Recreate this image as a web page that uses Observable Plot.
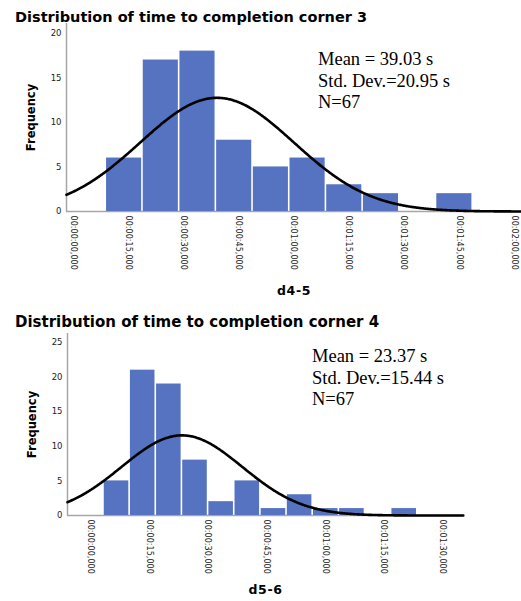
<!DOCTYPE html>
<html>
<head>
<meta charset="utf-8">
<script src="https://cdn.jsdelivr.net/npm/d3@7"></script>
<script src="https://cdn.jsdelivr.net/npm/@observablehq/plot@0.6"></script>
<style>
  body { margin: 0; background: #fff; }
  #wrap { position: relative; width: 521px; height: 601px; overflow: hidden; background: #fff; }
  .title { position: absolute; left: 15px; font-family: "DejaVu Sans", sans-serif; font-weight: bold; white-space: nowrap; color: #000; line-height: 1.164; }
  .stats { position: absolute; font-family: "Liberation Serif", serif; font-size: 18.5px; line-height: 21.5px; white-space: nowrap; color: #000; }
  svg.chart { position: absolute; left: 0; }
  svg.chart g[aria-label="y-axis label"] text { font-weight: bold; font-size: 11.5px; fill: #000; }
  svg.chart g[aria-label="x-axis label"] text { font-weight: bold; font-size: 12.5px; fill: #000; letter-spacing: 0.6px; }
  svg.chart g[aria-label="x-axis tick label"] text { font-size: 8.1px; fill: #222; }
  svg.chart g[aria-label="y-axis tick label"] text { font-size: 8.5px; fill: #222; }
</style>
</head>
<body>
<div id="wrap"></div>
<script>
// ---------- data ----------
const titleTop = "Distribution of time to completion corner 3";
const titleBottom = "Distribution of time to completion corner 4";

const labelTop = "d4-5";
const labelBottom = "d5-6";

// chart 1 (corner 3)
const countsTop = [6, 17, 18, 8, 5, 6, 3, 2, 0, 2];
const binStartTop = 8.7;   // seconds
const binWidthTop = 10;    // seconds
const meanTop = 39.03, sdTop = 20.95, nTop = 67;
const xTicksTop = [0, 15, 30, 45, 60, 75, 90, 105, 120];
const yTicksTop = [0, 5, 10, 15, 20];

// chart 2 (corner 4)
const countsBottom = [5, 21, 19, 8, 2, 5, 1, 3, 1, 1, 0, 1];
const binStartBottom = 3.3;
const binWidthBottom = 6.69;
const meanBottom = 23.37, sdBottom = 15.44, nBottom = 67;
const xTicksBottom = [0, 15, 30, 45, 60, 75, 90];
const yTicksBottom = [0, 5, 10, 15, 20, 25];

// ---------- helpers ----------
const pad2 = v => String(v).padStart(2, "0");
function fmtTime(s) {
  const h = Math.floor(s / 3600), m = Math.floor(s / 60) % 60, sec = Math.floor(s % 60);
  return `${pad2(h)}:${pad2(m)}:${pad2(sec)},000`;
}
function bins(counts, start, width) {
  return counts.map((c, i) => ({x1: start + i * width, x2: start + (i + 1) * width, count: c}));
}
function normalCurve(mean, sd, n, width, domain) {
  const pts = [];
  const k = n * width / (sd * Math.sqrt(2 * Math.PI));
  for (let x = domain[0]; x <= domain[1] + 1e-9; x += 0.25) {
    const z = (x - mean) / sd;
    pts.push({x, y: k * Math.exp(-0.5 * z * z)});
  }
  return pts;
}

const BAR = "#5573c0";
const AXIS = "#a6a6a6";

function chart({counts, start, width, mean, sd, n, xTicks, yTicks, xDomain, yDomain, label, top, height, margins, xLabelOffset}) {
  const svg = Plot.plot({
    width: 521,
    height,
    marginLeft: margins[0], marginRight: margins[1], marginTop: margins[2], marginBottom: margins[3],
    style: {fontFamily: "DejaVu Sans, sans-serif", fontSize: "8px", background: "transparent", color: "#000"},
    x: {domain: xDomain},
    y: {domain: yDomain},
    marks: [
      Plot.ruleY([0], {stroke: AXIS, strokeWidth: 1.5}),
      Plot.rectY(bins(counts, start, width).filter(d => d.count > 0), {
        x1: "x1", x2: "x2", y: "count", fill: BAR, insetLeft: 0.8, insetRight: 0.8
      }),
      Plot.ruleX([xDomain[0]], {stroke: AXIS, strokeWidth: 1.5}),
      Plot.line(normalCurve(mean, sd, n, width, xDomain), {x: "x", y: "y", stroke: "#000", strokeWidth: 2.6, curve: "basis"}),
      Plot.axisY({ticks: yTicks, tickSize: 0, tickPadding: 5, label: "Frequency", labelAnchor: "center", labelOffset: 40, labelArrow: "none"}),
      Plot.axisX({ticks: xTicks, tickSize: 0, tickPadding: 4, tickRotate: 90, tickFormat: fmtTime,
                  label, labelAnchor: "center", labelOffset: xLabelOffset, labelArrow: "none"})
    ]
  });
  svg.classList.add("chart");
  svg.style.top = top + "px";
  // strip any arrow glyphs in case labelArrow is unsupported
  svg.querySelectorAll('g[aria-label$="axis label"] text').forEach(t => {
    t.textContent = t.textContent.replace(/\s*[↑→←↓]\s*/g, "");
  });
  return svg;
}

const wrap = document.getElementById("wrap");

wrap.appendChild(chart({
  counts: countsTop, start: binStartTop, width: binWidthTop,
  mean: meanTop, sd: sdTop, n: nTop,
  xTicks: xTicksTop, yTicks: yTicksTop,
  xDomain: [-2, 122], yDomain: [0, 21.1],
  label: labelTop, top: 0, height: 300, margins: [66, 0, 23, 89], xLabelOffset: 83
}));

wrap.appendChild(chart({
  counts: countsBottom, start: binStartBottom, width: binWidthBottom,
  mean: meanBottom, sd: sdBottom, n: nBottom,
  xTicks: xTicksBottom, yTicks: yTicksBottom,
  xDomain: [-5.9, 95.4], yDomain: [0, 26.3],
  label: labelBottom, top: 300, height: 301, margins: [67, 58, 33, 86], xLabelOffset: 78
}));

function addTitle(text, top, size) {
  const d = document.createElement("div");
  d.className = "title";
  d.style.top = top + "px";
  d.style.fontSize = size + "px";
  d.textContent = text;
  wrap.appendChild(d);
}
function addStats(mean, sd, n, left, top) {
  const d = document.createElement("div");
  d.className = "stats";
  d.style.left = left + "px";
  d.style.top = top + "px";
  d.innerHTML = `Mean = ${mean.toFixed(2)} s<br>Std. Dev.=${sd.toFixed(2)} s<br>N=${n}`;
  wrap.appendChild(d);
}
addTitle(titleTop, 9, 14.5);
addTitle(titleBottom, 314, 15);
addStats(meanTop, sdTop, nTop, 318, 49);
addStats(meanBottom, sdBottom, nBottom, 312, 346);
</script>
</body>
</html>
